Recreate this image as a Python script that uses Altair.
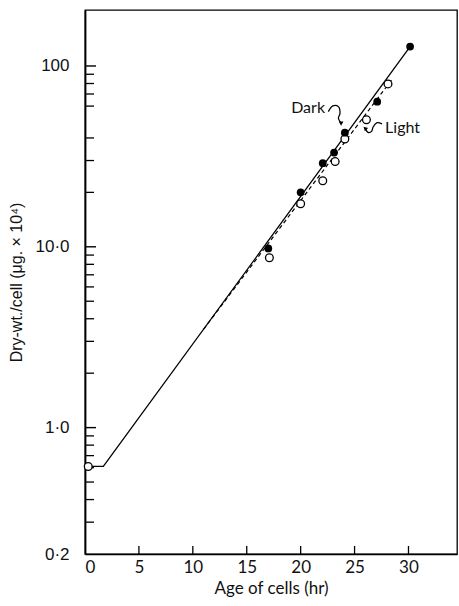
import altair as alt
import pandas as pd

# Dry weight per cell against age, cultures grown in the dark and in the light
dark_hours = [17.0, 20.0, 22.05, 23.1, 24.1, 27.1, 30.15]
dark_dry_wt = [9.8, 20.0, 29.0, 33.2, 42.8, 63.5, 128.0]
light_hours = [0.3, 17.1, 20.0, 22.05, 23.2, 24.1, 26.1, 28.1]
light_dry_wt = [0.61, 8.7, 17.3, 23.2, 29.6, 39.5, 50.4, 79.6]

# Fitted growth lines
dark_line_hours = [0.3, 1.7, 30.15]
dark_line_dry_wt = [0.61, 0.61, 128.0]
light_line_hours = [11.0, 28.45]
light_line_dry_wt = [3.5, 84.0]

# Axis ticks
x_tick_values = [5, 10, 15, 20, 25, 30]
y_label_values = [0.2, 1, 10, 100]
y_major_ticks = [1, 10, 100]
y_minor_ticks = [0.3, 0.4, 0.5, 0.6, 0.7, 0.8, 0.9,
                 2, 3, 4, 5, 6, 7, 8, 9,
                 20, 30, 40, 60, 70, 80, 90]

# Labels and their curly pointers
label_text = ["Dark", "Light"]
label_hours = [22.26, 27.83]
label_dry_wt = [55.0, 42.7]
dark_arrow_hours = [22.57, 22.98, 23.50, 23.65, 23.50, 23.72]
dark_arrow_dry_wt = [55.9, 60.1, 59.6, 54.8, 51.4, 48.6]
light_arrow_hours = [27.55, 27.09, 26.72, 26.58, 26.25, 26.02]
light_arrow_dry_wt = [47.8, 48.6, 46.0, 43.5, 42.9, 44.9]
head_hours = [23.75, 25.97]
head_dry_wt = [48.0, 45.3]
head_angle = [180, 315]

W, H = 372, 544
x_scale = alt.Scale(domain=[0, 34.5], nice=False, zero=False)
y_scale = alt.Scale(type="log", domain=[0.2, 204], nice=False)

x_axis = alt.Axis(
    values=[0] + x_tick_values, ticks=False, tickSize=0, grid=False,
    domain=True, domainColor="black", domainWidth=1.5,
    labelFont="Lato", labelFontSize=17, labelColor="#111", labelPadding=5,
    title="Age of cells (hr)", titleFont="Lato", titleFontSize=17,
    titleFontWeight="normal", titleColor="#111", titlePadding=5,
)
y_axis = alt.Axis(
    values=y_label_values, ticks=False, tickSize=0, grid=False,
    domain=True, domainColor="black", domainWidth=1.8,
    labelExpr="datum.value >= 50 ? '100' : datum.value >= 5 ? '10·0' : datum.value >= 0.5 ? '1·0' : '0·2'",
    labelFont="Liberation Sans", labelFontSize=17, labelColor="#111", labelPadding=16,
    title="Dry-wt./cell (μg. × 10⁴)", titleFont="Liberation Sans", titleFontSize=16,
    titleFontWeight="normal", titleColor="#111", titlePadding=10,
)

X = alt.X("h:Q", scale=x_scale, axis=x_axis)
Y = alt.Y("w:Q", scale=y_scale, axis=y_axis)

dark_df = pd.DataFrame({"h": dark_hours, "w": dark_dry_wt})
light_df = pd.DataFrame({"h": light_hours, "w": light_dry_wt})
dark_line_df = pd.DataFrame({"h": dark_line_hours, "w": dark_line_dry_wt})
light_line_df = pd.DataFrame({"h": light_line_hours, "w": light_line_dry_wt})

dark_line = alt.Chart(dark_line_df).mark_line(color="black", strokeWidth=1.3).encode(x=X, y=Y)
light_line = alt.Chart(light_line_df).mark_line(
    color="black", strokeWidth=1.2, strokeDash=[4, 3]).encode(x=X, y=Y)

dark_pts = alt.Chart(dark_df).mark_point(
    shape="circle", filled=True, color="black", size=60, opacity=1).encode(x=X, y=Y)
light_pts = alt.Chart(light_df).mark_point(
    shape="circle", filled=True, fill="white", stroke="black", strokeWidth=1.3,
    size=60, opacity=1).encode(x=X, y=Y)

# inward tick marks on both axes
y_major = alt.Chart(pd.DataFrame({"w": y_major_ticks})).mark_rule(
    color="black", strokeWidth=1.4).encode(y=Y, x=alt.value(0), x2=alt.value(11))
y_minor = alt.Chart(pd.DataFrame({"w": y_minor_ticks})).mark_rule(
    color="black", strokeWidth=1.3).encode(y=Y, x=alt.value(0), x2=alt.value(9))
x_ticks = alt.Chart(pd.DataFrame({"h": x_tick_values})).mark_rule(
    color="black", strokeWidth=1.3).encode(x=X, y=alt.value(H), y2=alt.value(H - 8))

label_df = pd.DataFrame({"t": label_text, "h": label_hours, "w": label_dry_wt})
dark_label = alt.Chart(label_df.iloc[[0]]).mark_text(
    align="right", baseline="alphabetic", font="Lato", fontSize=16, color="#111"
).encode(x=X, y=Y, text="t:N")
light_label = alt.Chart(label_df.iloc[[1]]).mark_text(
    align="left", baseline="alphabetic", font="Lato", fontSize=16, color="#111"
).encode(x=X, y=Y, text="t:N")

arrow_df = pd.concat([
    pd.DataFrame({"g": "dark", "s": range(len(dark_arrow_hours)),
                  "h": dark_arrow_hours, "w": dark_arrow_dry_wt}),
    pd.DataFrame({"g": "light", "s": range(len(light_arrow_hours)),
                  "h": light_arrow_hours, "w": light_arrow_dry_wt}),
])
arrows = alt.Chart(arrow_df).mark_line(
    color="black", strokeWidth=1.3, interpolate="catmull-rom").encode(
    x=X, y=Y, detail="g:N", order="s:Q")
heads = alt.Chart(pd.DataFrame({"h": head_hours, "w": head_dry_wt, "a": head_angle})).mark_point(
    shape="triangle-up", filled=True, color="black", size=22, opacity=1).encode(
    x=X, y=Y, angle=alt.Angle("a:Q", scale=None))

chart = alt.layer(
    y_minor, y_major, x_ticks, dark_line, light_line, arrows, heads,
    light_pts, dark_pts, dark_label, light_label,
).properties(
    width=W, height=H, autosize="none",
    padding={"left": 85, "top": 10, "right": 2, "bottom": 52},
    background="white",
).configure_view(stroke="black", strokeWidth=1.3)

chart.save("out.html", embed_options={"renderer": "svg", "actions": False})
